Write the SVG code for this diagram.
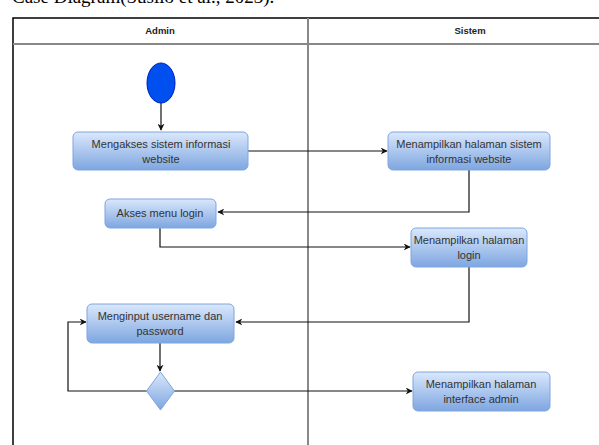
<svg xmlns="http://www.w3.org/2000/svg" width="599" height="445" viewBox="0 0 599 445">
  <style>
    .caption { font-family: "Liberation Serif", serif; font-size: 19px; fill: #000; }
    .lane-title { font-family: "Liberation Sans", Arial, sans-serif; font-size: 9.5px; font-weight: bold; fill: #222; text-anchor: middle; }
    .act { fill: url(#actFill); stroke: #7ea6e0; stroke-width: 1; }
    .label { font-family: "Liberation Sans", Arial, sans-serif; font-size: 11px; fill: #333; text-anchor: middle; }
    .flow { fill: none; stroke: #111; stroke-width: 1.2; }
    .frame { fill: none; stroke: #000; stroke-width: 1.5; }
    .lane-line { fill: none; stroke: #888; stroke-width: 2; }
  </style>
  <defs>
    <linearGradient id="actFill" x1="0" y1="0" x2="0" y2="1">
      <stop offset="0" stop-color="#dae8fc"/>
      <stop offset="1" stop-color="#7ea6e0"/>
    </linearGradient>
    <marker id="arrow" viewBox="0 0 10 10" refX="9" refY="5" markerWidth="7" markerHeight="7" orient="auto" markerUnits="userSpaceOnUse">
      <path d="M0,0 L10,5 L0,10 L3,5 Z" fill="#111"/>
    </marker>
  </defs>

  <rect width="599" height="445" fill="#fff"/>

  <!-- caption line above the diagram, clipped by the top edge -->
  <text class="caption" x="12" y="3">Case Diagram(Susilo et al., 2023).</text>

  <!-- swimlane frame -->
  <g id="lanes">
    <path class="frame" d="M13,445 V18 H599"/>
    <path class="lane-line" d="M13,44 H599"/>
    <path class="lane-line" d="M308,18 V445"/>
    <text class="lane-title" x="160" y="34">Admin</text>
    <text class="lane-title" x="470" y="34">Sistem</text>
  </g>

  <!-- connectors -->
  <g id="connectors">
    <path class="flow" d="M161,103 V130" marker-end="url(#arrow)"/>
    <path class="flow" d="M248,151 H387" marker-end="url(#arrow)"/>
    <path class="flow" d="M469,170 V212 H218" marker-end="url(#arrow)"/>
    <path class="flow" d="M160,228 V247 H410" marker-end="url(#arrow)"/>
    <path class="flow" d="M469,267 V322 H236" marker-end="url(#arrow)"/>
    <path class="flow" d="M160,343 V371" marker-end="url(#arrow)"/>
    <path class="flow" d="M147,391 H68 V322 H86" marker-end="url(#arrow)"/>
    <path class="flow" d="M174,391 H412" marker-end="url(#arrow)"/>
  </g>

  <g id="start">
    <ellipse cx="161" cy="83" rx="14" ry="20" fill="#0050ef" stroke="#001dbc" stroke-width="1"/>
  </g>

  <g id="akses-sistem">
    <rect class="act" x="73" y="132" width="175" height="38" rx="5"/>
    <text class="label" x="161" y="148">Mengakses sistem informasi</text>
    <text class="label" x="161" y="163">website</text>
  </g>

  <g id="tampil-sistem">
    <rect class="act" x="388" y="132" width="162" height="38" rx="5"/>
    <text class="label" x="469" y="148">Menampilkan halaman sistem</text>
    <text class="label" x="469" y="163">informasi website</text>
  </g>

  <g id="akses-login">
    <rect class="act" x="105" y="199" width="111" height="29" rx="5"/>
    <text class="label" x="160" y="217">Akses menu login</text>
  </g>

  <g id="tampil-login">
    <rect class="act" x="411" y="228" width="116" height="39" rx="5"/>
    <text class="label" x="469" y="244">Menampilkan halaman</text>
    <text class="label" x="469" y="259">login</text>
  </g>

  <g id="input-akun">
    <rect class="act" x="87" y="304" width="147" height="39" rx="5"/>
    <text class="label" x="160" y="320">Menginput username dan</text>
    <text class="label" x="160" y="335">password</text>
  </g>

  <g id="keputusan">
    <path class="act" d="M160.5,372 L174.5,391 L160.5,410 L146.5,391 Z"/>
  </g>

  <g id="tampil-interface">
    <rect class="act" x="413" y="372" width="137" height="39" rx="5"/>
    <text class="label" x="481" y="388">Menampilkan halaman</text>
    <text class="label" x="481" y="403">interface admin</text>
  </g>
</svg>
